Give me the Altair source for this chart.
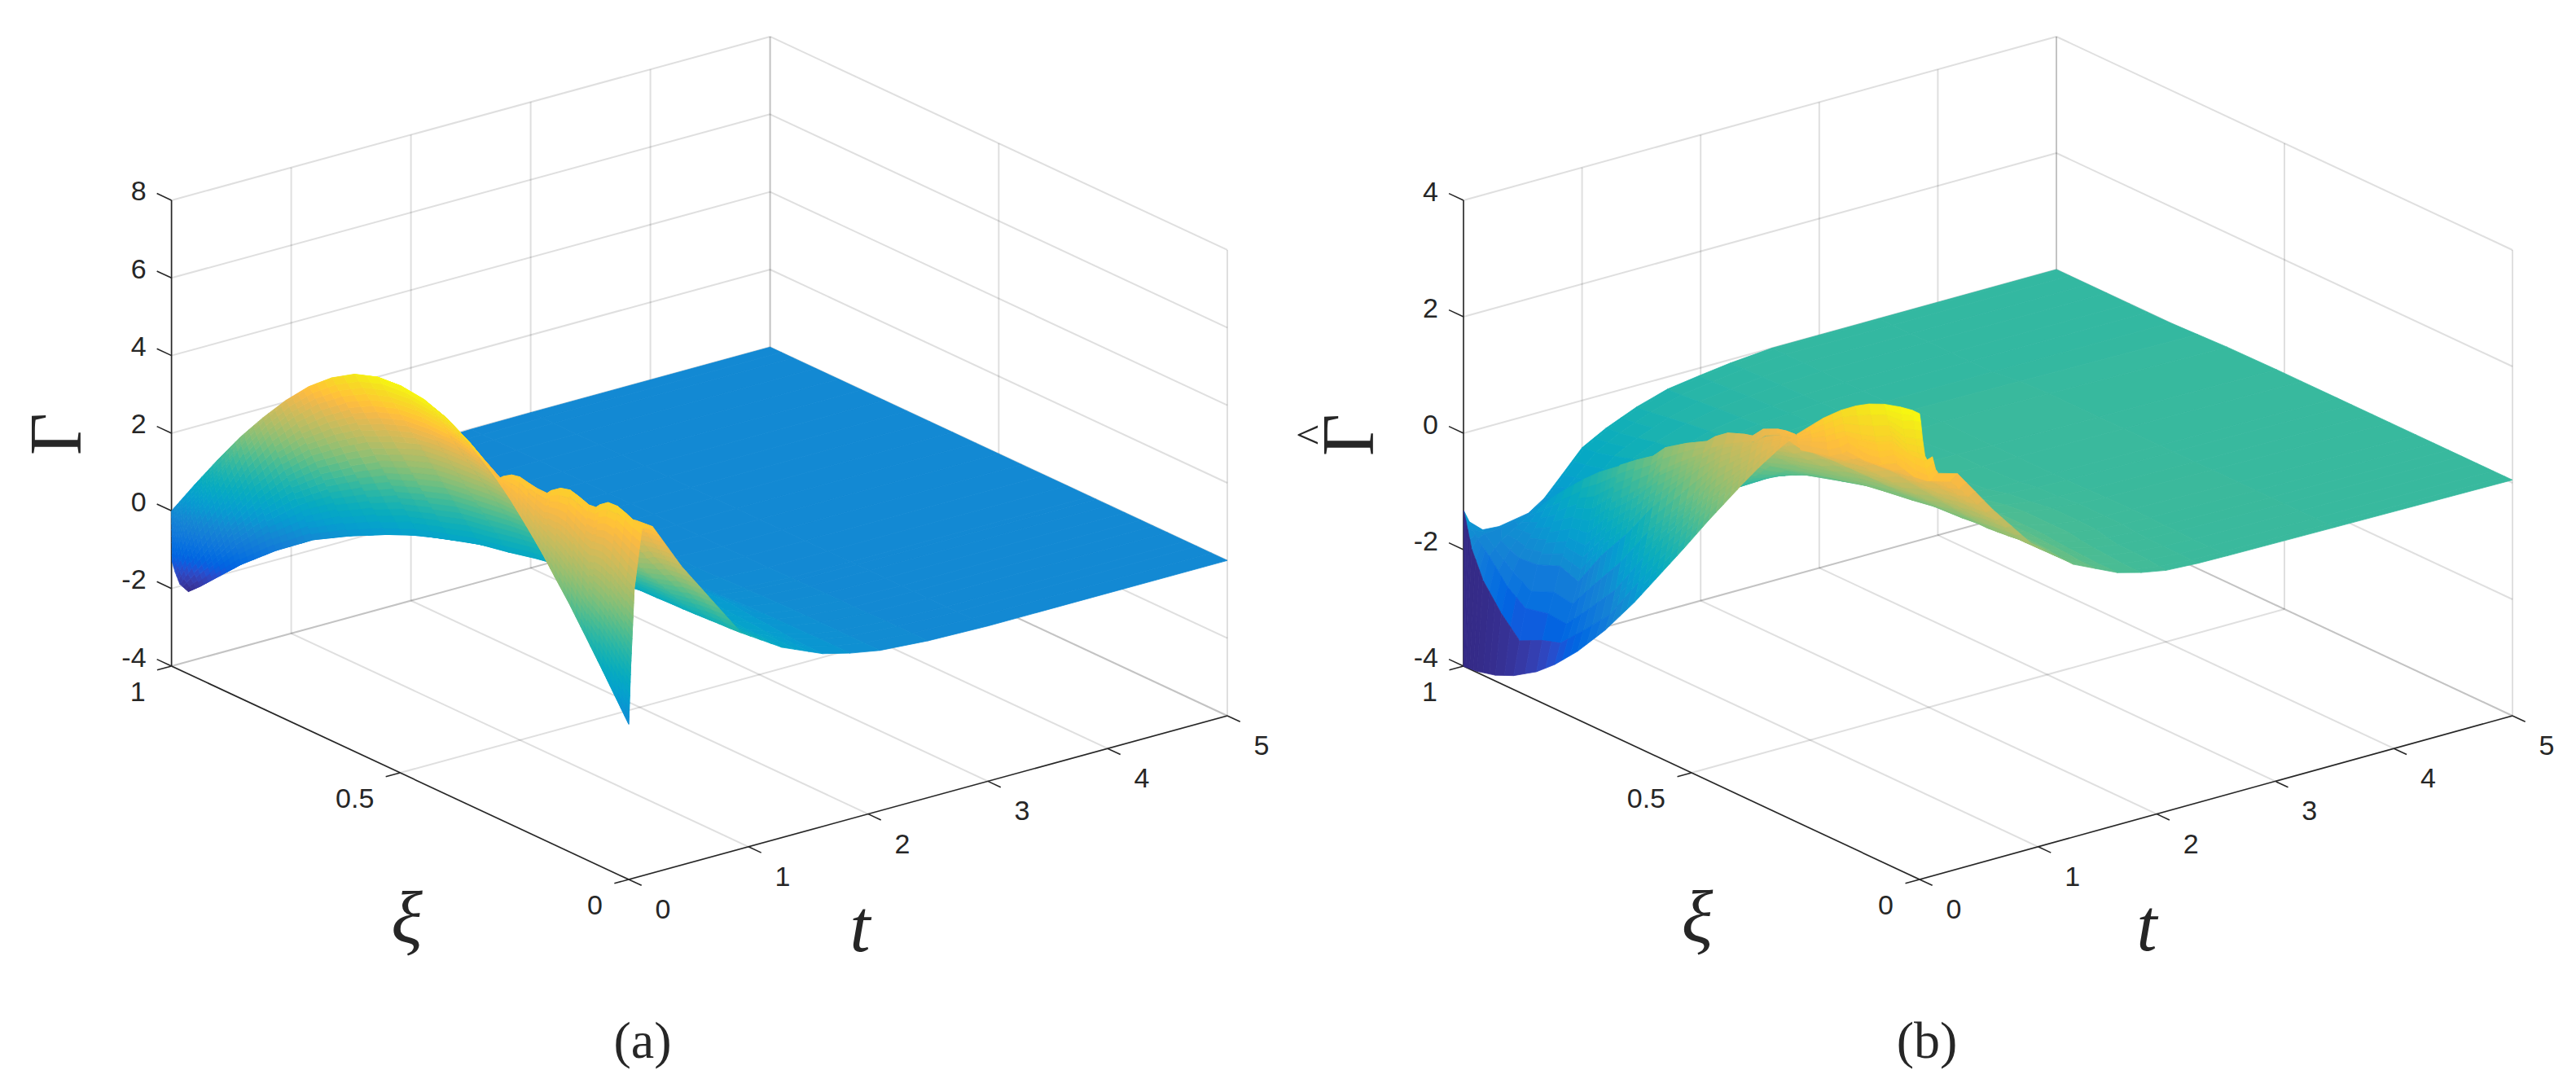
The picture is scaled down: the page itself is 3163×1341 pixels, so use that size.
import math
import altair as alt
import pandas as pd

alt.data_transformers.disable_max_rows()

# ---------------------------------------------------------------- colour map (MATLAB parula)
PARULA = [
 [0.2081,0.1663,0.5292],[0.2116,0.1898,0.5777],[0.2123,0.2138,0.6270],[0.2081,0.2386,0.6771],
 [0.1959,0.2645,0.7279],[0.1707,0.2919,0.7792],[0.1253,0.3242,0.8303],[0.0591,0.3598,0.8683],
 [0.0117,0.3875,0.8820],[0.0060,0.4086,0.8828],[0.0165,0.4266,0.8786],[0.0329,0.4430,0.8720],
 [0.0498,0.4586,0.8641],[0.0629,0.4737,0.8554],[0.0723,0.4887,0.8467],[0.0779,0.5040,0.8384],
 [0.0793,0.5200,0.8312],[0.0749,0.5375,0.8263],[0.0641,0.5570,0.8240],[0.0488,0.5772,0.8228],
 [0.0343,0.5966,0.8199],[0.0265,0.6137,0.8135],[0.0239,0.6287,0.8038],[0.0231,0.6418,0.7913],
 [0.0228,0.6535,0.7768],[0.0267,0.6642,0.7607],[0.0384,0.6743,0.7436],[0.0590,0.6838,0.7254],
 [0.0843,0.6928,0.7062],[0.1133,0.7015,0.6859],[0.1453,0.7098,0.6646],[0.1801,0.7177,0.6424],
 [0.2178,0.7250,0.6193],[0.2586,0.7317,0.5954],[0.3022,0.7376,0.5712],[0.3482,0.7424,0.5473],
 [0.3953,0.7459,0.5244],[0.4420,0.7481,0.5033],[0.4871,0.7491,0.4840],[0.5300,0.7491,0.4661],
 [0.5709,0.7485,0.4494],[0.6099,0.7473,0.4337],[0.6473,0.7456,0.4188],[0.6834,0.7435,0.4044],
 [0.7184,0.7411,0.3905],[0.7525,0.7384,0.3768],[0.7858,0.7356,0.3633],[0.8185,0.7327,0.3498],
 [0.8507,0.7299,0.3360],[0.8824,0.7274,0.3217],[0.9139,0.7258,0.3063],[0.9450,0.7261,0.2886],
 [0.9739,0.7314,0.2666],[0.9938,0.7455,0.2403],[0.9990,0.7653,0.2164],[0.9955,0.7861,0.1967],
 [0.9880,0.8066,0.1794],[0.9789,0.8271,0.1633],[0.9697,0.8481,0.1475],[0.9626,0.8705,0.1309],
 [0.9589,0.8949,0.1132],[0.9598,0.9218,0.0948],[0.9661,0.9514,0.0755],[0.9763,0.9831,0.0538],
]

# ---------------------------------------------------------------- panel (a): Gamma
XI_A = [1,.975,.95,.9,.85,.8,.75,.7,.65,.6,.55,.5,.45,.4,.35,.3,.287,.259,.224,.189,.162,.131,.091,.067,.035,0]
T_A = [
 [0,.002,.004,.005,.03,.07,.14,.44,.74,1.85,2.1,2.5,3,5],
 [0,.002,.004,.008,.03,.075,.145,.445,.745,1.85,2.1,2.5,3,5],
 [0,.003,.006,.01,.03,.08,.15,.45,.75,1.85,2.1,2.5,3,5],
 [0,.003,.006,.01,.04,.1,.2,.5,.8,1.85,2.1,2.5,3,5],
 [0,.003,.006,.01,.05,.14,.3,.6,.9,1.85,2.1,2.5,3,5],
 [0,.003,.006,.01,.06,.18,.42,.72,1.02,1.85,2.1,2.5,3,5],
 [0,.003,.006,.01,.07,.22,.53,.83,1.13,1.85,2.1,2.5,3,5],
 [0,.003,.006,.01,.08,.27,.65,.95,1.25,1.85,2.1,2.5,3,5],
 [0,.003,.006,.01,.09,.3,.73,1.03,1.33,1.85,2.1,2.5,3,5],
 [0,.003,.006,.01,.1,.33,.8,1.1,1.4,1.85,2.1,2.5,3,5],
 [0,.003,.006,.01,.105,.35,.855,1.15,1.45,1.85,2.1,2.5,3,5],
 [0,.003,.006,.01,.11,.37,.9,1.2,1.5,1.85,2.1,2.5,3,5],
 [0,.003,.006,.01,.115,.39,.95,1.25,1.55,1.85,2.1,2.5,3,5],
 [0,.003,.006,.01,.12,.41,1,1.3,1.6,1.85,2.1,2.5,3,5],
 [0,.003,.006,.01,.125,.43,1.04,1.34,1.64,1.85,2.1,2.5,3,5],
 [0,.003,.006,.01,.13,.44,1.07,1.37,1.67,1.85,2.1,2.5,3,5],
 [0,.001,.002,.003,.13,.44,1.075,1.39,1.7,1.85,2.1,2.5,3,5],
 [0,.0016,.0045,.0108,.141,.451,1.085,1.39,1.7,1.85,2.1,2.5,3,5],
 [0,.0036,.01,.024,.154,.464,1.09,1.39,1.7,1.85,2.1,2.5,3,5],
 [0,.0057,.0158,.0377,.168,.478,1.08,1.38,1.68,1.85,2.1,2.5,3,5],
 [0,.0072,.02,.048,.178,.488,1.07,1.37,1.67,1.85,2.1,2.5,3,5],
 [0,.009,.025,.06,.19,.5,1.05,1.36,1.66,1.85,2.1,2.5,3,5],
 [0,.011,.0315,.075,.205,.5,1.02,1.33,1.64,1.85,2.1,2.5,3,5],
 [0,.0128,.0357,.085,.2,.47,1,1.32,1.63,1.85,2.1,2.5,3,5],
 [0,.0146,.0407,.097,.2,.45,.97,1.3,1.62,1.85,2.1,2.5,3,5],
 [0,.016,.046,.11,.2,.44,.94,1.28,1.62,1.85,2.1,2.5,3,5],
]
Z_A = [
 [0,-.5,-1,-1.32,-1.6,-1.95,-2.2,-1.6,-1.1,-.08,-.05,-.01,0,0],
 [.47,.2,-.1,-.41,-.8,-1.4,-1.93,-1.35,-.9,-.06,-.04,-.01,0,0],
 [.94,.7,.45,.18,-.1,-.9,-1.63,-1.1,-.7,-.05,-.03,0,0,0],
 [1.85,1.73,1.53,1.32,.95,.21,-1,-.65,-.35,-.03,-.02,0,0,0],
 [2.72,2.66,2.58,2.5,2.1,1.17,-.45,-.28,-.15,-.02,-.01,0,0,0],
 [3.5,3.48,3.45,3.41,3,2,0,0,0,0,0,0,0,0],
 [4.22,4.21,4.2,4.18,3.74,2.62,.28,.18,.05,0,0,0,0,0],
 [4.85,4.84,4.83,4.82,4.34,3.07,.49,.25,.1,.01,0,0,0,0],
 [5.35,5.34,5.33,5.32,4.8,3.45,.68,.3,.15,.01,.01,0,0,0],
 [5.72,5.71,5.7,5.69,5.13,3.7,.78,.42,.2,.02,.01,0,0,0],
 [5.92,5.91,5.91,5.9,5.33,3.9,.89,.46,.25,.03,.02,0,0,0],
 [5.97,5.96,5.96,5.95,5.39,3.93,.93,.55,.3,.05,.03,0,0,0],
 [5.9,5.89,5.89,5.88,5.34,3.91,.99,.6,.33,.07,.05,0,0,0],
 [5.7,5.69,5.68,5.67,5.15,3.78,1.01,.62,.35,.1,.06,.01,0,0],
 [5.35,5.34,5.33,5.32,4.8,3.47,1.02,.65,.4,.14,.08,.01,0,0],
 [4.85,4.84,4.83,4.8,4.28,3.15,1.06,.68,.42,.2,.1,.02,0,0],
 [4.7,4.72,4.73,4.72,4.2,3.1,1.08,.7,.43,.2,.1,.02,0,0],
 [4.38,4.52,4.62,4.7,4.3,3.1,1.11,.74,.45,.22,.11,.02,0,0],
 [3.88,4.15,4.42,4.6,4.35,3.12,1.11,.76,.45,.24,.12,.03,0,0],
 [3.37,3.8,4.3,4.6,4.4,3.13,1.15,.78,.45,.25,.13,.03,0,0],
 [2.91,3.55,4.35,4.85,4.5,3.15,1.18,.79,.45,.25,.13,.03,0,0],
 [2.41,3.2,4.2,4.85,4.55,3.16,1.24,.8,.45,.26,.13,.03,0,0],
 [1.69,2.65,3.9,4.7,4.7,3.35,1.33,.83,.45,.26,.13,.04,0,0],
 [1.25,2.4,3.9,4.95,4.8,3.55,1.39,.85,.45,.27,.13,.04,0,0],
 [.66,1.95,3.7,4.85,4.88,3.65,1.47,.88,.45,.27,.13,.04,0,0],
 [0,1.44,3.45,4.95,4.92,3.7,1.56,.9,.45,.27,.13,.04,0,0],
]

# the rippled ridge of panel (a), read finely
XI_A_RIDGE = [.2856,.275,.2588,.2426,.2237,.2075,.1885,.1805,.1617,.1427,.1266,.105,.0914,.0833,.0672,.0484,.0322,.016,0]
T_A_RIDGE = [
 [0,.0001,.0002,.0005,.03],[0,.0007,.0019,.0046,.035],[0,.0016,.0045,.0108,.041],[0,.0026,.0071,.017,.047],
 [0,.0036,.0102,.0243,.054],[0,.0046,.0129,.0306,.061],[0,.0057,.0159,.0379,.068],[0,.0062,.0172,.041,.071],
 [0,.0072,.0202,.0482,.078],[0,.0083,.0233,.0555,.086],[0,.0093,.0259,.0617,.092],[0,.0105,.0294,.07,.1],
 [0,.0113,.0316,.0752,.105],[0,.0118,.0329,.0784,.108],[0,.0127,.0355,.0846,.115],[0,.0138,.0386,.0918,.122],
 [0,.0147,.0412,.098,.128],[0,.0156,.0438,.1042,.134],[0,.016,.046,.1104,.14],
]
Z_A_RIDGE = [
 [4.68,4.7,4.73,4.75,4.55],[4.56,4.65,4.77,4.87,4.67],[4.36,4.53,4.78,4.99,4.79],[4.14,4.39,4.74,5.02,4.82],
 [3.88,4.18,4.6,4.95,4.75],[3.64,4.0,4.5,4.9,4.7],[3.35,3.8,4.4,4.88,4.68],[3.22,3.73,4.44,4.99,4.79],
 [2.91,3.56,4.45,5.15,4.95],[2.6,3.35,4.4,5.2,5.0],[2.33,3.14,4.26,5.13,4.93],[1.94,2.83,4.06,5.01,4.81],
 [1.7,2.65,3.99,5.02,4.82],[1.55,2.58,4.02,5.13,4.93],[1.26,2.42,4.03,5.27,5.07],[.91,2.17,3.92,5.27,5.07],
 [.6,1.93,3.76,5.18,4.98],[.3,1.68,3.59,5.07,4.9],[0,1.44,3.45,5.0,4.98],
]

# ---------------------------------------------------------------- panel (b): Gamma-hat
XI_B = [1,.995,.97,.93,.89,.84,.8,.75,.69,.626,.517,.462,.384,.353,.307,.268,.211,.172,.14,.111,.077,.042,.016,0]
T_B = [
 [0,.002,.05,.162,.3,.547,.68,.83,1,1.2,1.46,1.72,1.985,2.25,2.6,3.5,5],
 [0,.05,.1,.16,.3,.53,.68,.83,1,1.2,1.46,1.72,1.985,2.25,2.6,3.5,5],
 [0,.05,.1,.15,.2,.491,.68,.83,1,1.2,1.46,1.72,1.985,2.25,2.6,3.5,5],
 [0,.05,.1,.15,.2,.463,.68,.83,1,1.2,1.46,1.72,1.985,2.25,2.6,3.5,5],
 [0,.05,.1,.15,.2,.435,.68,.83,1,1.2,1.46,1.72,1.985,2.25,2.6,3.5,5],
 [0,.05,.1,.15,.2,.4,.65,.83,1,1.2,1.46,1.72,1.985,2.25,2.6,3.5,5],
 [0,.05,.1,.15,.2,.372,.62,.8,1,1.2,1.46,1.72,1.985,2.25,2.6,3.5,5],
 [0,.05,.1,.15,.2,.337,.6,.8,1,1.2,1.46,1.72,1.985,2.25,2.6,3.5,5],
 [0,.045,.09,.135,.18,.295,.55,.75,1,1.2,1.46,1.72,1.985,2.25,2.6,3.5,5],
 [0,.04,.08,.12,.16,.25,.5,.7,.9,1.18,1.46,1.72,1.985,2.25,2.6,3.5,5],
 [0,.03,.06,.09,.13,.174,.33,.53,.73,1,1.3,1.65,2,2.3,2.6,3.5,5],
 [0,.025,.05,.08,.1,.136,.3,.6,.85,1.12,1.4,1.7,2,2.3,2.6,3.5,5],
 [0,.015,.03,.05,.065,.081,.3,.65,1,1.27,1.55,1.8,2.05,2.32,2.6,3.5,5],
 [0,.012,.024,.036,.048,.06,.3,.65,1.06,1.33,1.6,1.85,2.1,2.35,2.6,3.5,5],
 [0,.005,.01,.016,.022,.027,.3,.65,1.12,1.4,1.68,1.9,2.12,2.35,2.6,3.5,5],
 [0,.0006,.0012,.0018,.0024,.003,.3,.65,1.15,1.42,1.7,1.92,2.15,2.37,2.6,3.5,5],
 [0,.006,.012,.018,.024,.03,.32,.67,1.17,1.43,1.7,1.92,2.15,2.37,2.6,3.5,5],
 [0,.01,.02,.03,.04,.05,.33,.67,1.15,1.42,1.7,1.92,2.15,2.37,2.6,3.5,5],
 [0,.014,.028,.042,.056,.07,.33,.66,1.11,1.4,1.69,1.9,2.12,2.36,2.6,3.5,5],
 [0,.017,.034,.051,.068,.085,.33,.66,1.08,1.38,1.68,1.89,2.1,2.35,2.6,3.5,5],
 [0,.02,.04,.06,.08,.1,.33,.64,1.04,1.36,1.68,1.88,2.1,2.35,2.6,3.5,5],
 [0,.015,.035,.055,.085,.115,.33,.64,.99,1.33,1.67,1.87,2.09,2.35,2.6,3.5,5],
 [0,.012,.03,.05,.088,.125,.32,.62,.95,1.31,1.67,1.87,2.08,2.35,2.6,3.5,5],
 [0,.01,.025,.045,.09,.135,.32,.62,.934,1.3,1.67,1.87,2.08,2.35,2.6,3.5,5],
]
Z_B = [
 [-4,-1.33,-1.55,-1.75,-1.77,-1.68,-1.5,-1.18,-.81,-.59,-.37,-.21,-.13,-.06,0,0,0],
 [-4,-2,-1.85,-1.8,-1.78,-1.66,-1.48,-1.17,-.8,-.58,-.37,-.21,-.13,-.06,0,0,0],
 [-3.98,-2.45,-2.05,-1.95,-1.85,-1.48,-1.4,-1.12,-.78,-.56,-.35,-.2,-.12,-.05,0,0,0],
 [-3.9,-2.87,-2.43,-2.21,-2,-1.13,-1.25,-1.05,-.7,-.5,-.3,-.17,-.1,-.04,0,0,0],
 [-3.76,-3.19,-2.66,-2.4,-1.97,-.81,-1.1,-.92,-.6,-.43,-.25,-.14,-.08,-.03,0,0,0],
 [-3.51,-3,-2.57,-2.23,-1.81,-.43,-.85,-.75,-.5,-.36,-.2,-.11,-.06,-.02,0,0,0],
 [-3.24,-2.9,-2.6,-2.28,-1.93,-.15,-.65,-.6,-.4,-.29,-.16,-.08,-.04,-.01,0,0,0],
 [-2.83,-2.5,-2.15,-1.75,-1.3,.15,-.4,-.42,-.28,-.2,-.1,-.05,-.02,0,0,0,0],
 [-2.25,-2,-1.6,-1.15,-.7,.45,-.15,-.25,-.15,-.1,-.04,-.01,0,.04,.08,.06,.02],
 [-1.54,-1.2,-.8,-.38,.02,.85,.1,-.05,-.05,-.03,0,.02,.05,.08,.1,.08,.04],
 [-.21,.09,.39,.69,1.08,1.4,1.32,1.06,.8,.5,.25,.15,.12,.11,.1,.08,.05],
 [.48,.74,1,1.31,1.52,1.78,1.65,1.2,.82,.52,.28,.18,.13,.11,.1,.08,.05],
 [1.42,1.56,1.7,1.88,2.02,2.05,1.85,1.33,.81,.55,.32,.2,.14,.11,.1,.08,.05],
 [1.78,1.9,2.03,2.15,2.2,2.28,2,1.45,.78,.53,.33,.22,.15,.12,.1,.08,.05],
 [2.28,2.34,2.38,2.42,2.46,2.48,2.14,1.55,.76,.53,.35,.24,.17,.13,.11,.08,.05],
 [2.67,2.64,2.6,2.57,2.53,2.45,2.05,1.53,.78,.54,.35,.25,.18,.14,.12,.08,.05],
 [3.15,3.04,2.94,2.83,2.73,2.5,2.15,1.58,.78,.54,.35,.25,.18,.14,.12,.08,.05],
 [3.43,3.31,3.19,3.06,2.94,2.7,2.32,1.7,.84,.57,.35,.25,.17,.14,.12,.08,.05],
 [3.62,3.45,3.28,3.11,2.94,2.65,2.3,1.72,.9,.6,.34,.24,.17,.13,.11,.08,.05],
 [3.76,3.57,3.37,3.18,2.98,2.67,2.34,1.76,.96,.62,.34,.23,.16,.13,.11,.08,.05],
 [3.88,3.69,3.5,3.31,3.12,2.81,2.47,1.84,1.04,.64,.33,.23,.16,.12,.1,.08,.05],
 [3.96,3.72,3.43,3.2,3,2.7,2.5,1.85,1.14,.65,.33,.22,.16,.12,.1,.08,.05],
 [4,3.82,3.5,3.25,3.03,2.72,2.6,1.9,1.2,.67,.33,.22,.15,.11,.1,.08,.05],
 [4,3.85,3.55,3.25,3.05,2.9,2.79,2,1.26,.68,.33,.22,.14,.11,.1,.08,.05],
]

# the crest and the crease of panel (b), read finely
XI_B_RIDGE = [.7439,.6993,.6548,.6216,.5991,.5657,.5103,.4884,.4544,.4098,.388,.3596,.3205,.2985,.2738,
              .2656,.2415,.2094,.1851,.169,.1488,.1289,.1085,.0804,.0602,.0361,.016,0]
T_B_RIDGE = [
 [.266,.3331,.353],[.242,.3019,.322],[.217,.2708,.291],[.198,.2475,.268],[.185,.2318,.252],[.167,.2084,.228],
 [.136,.1696,.19],[.123,.1543,.174],[.104,.1305,.15],[.079,.0993,.119],[.067,.084,.104],[.051,.0641,.084],
 [.029,.0368,.057],[.017,.0214,.041],[.003,.004,.024],[.001,.0012,.021],[.011,.0133,.033],[.024,.0295,.05],
 [.033,.0418,.062],[.04,.0499,.07],[.048,.06,.08],[.056,.0701,.09],[.064,.0803,.1],[.076,.0945,.115],
 [.084,.1047,.125],[.093,.1168,.137],[.102,.1269,.147],[.108,.135,.155],
]
Z_B_RIDGE = [
 [-.4,.2,.08],[-.07,.47,.35],[.27,.72,.6],[.62,1.0,.88],[.79,1.12,1.0],[1.02,1.3,1.18],
 [1.38,1.56,1.44],[1.56,1.73,1.61],[1.76,1.93,1.81],[1.97,2.09,1.97],[2.05,2.15,2.03],[2.27,2.38,2.26],
 [2.48,2.54,2.42],[2.56,2.6,2.48],[2.63,2.64,2.52],[2.55,2.51,2.39],[2.62,2.55,2.43],[2.71,2.6,2.48],
 [2.87,2.73,2.61],[2.98,2.86,2.74],[2.98,2.81,2.69],[3.0,2.78,2.66],[3.03,2.81,2.69],[3.14,2.95,2.83],
 [3.12,2.9,2.78],[3.07,2.82,2.7],[3.06,2.82,2.7],[3.2,2.97,2.9],
]

# ---------------------------------------------------------------- axes
T_TICKS = [0, 1, 2, 3, 4, 5]
XI_TICKS = [0, 0.5, 1]
XI_LABELS = ["0", "0.5", "1"]
Z_TICKS_A = [-4, -2, 0, 2, 4, 6, 8]
Z_TICKS_B = [-4, -2, 0, 2, 4]

# the 3-D view of each panel: page position of the front corner and pixels per data unit
VIEW_A = dict(ox=772.0, oy=1080.0, tx=147.0, ty=-40.2, xx=-561.4, xy=-262.0, zs=47.67)
VIEW_B = dict(ox=2357.0, oy=1080.0, tx=145.6, ty=-40.2, xx=-560.0, xy=-262.0, zs=71.5)
INK = "#262626"


def proj(v, t, xi, z):
    return (v["ox"] + v["tx"] * t + v["xx"] * xi,
            v["oy"] + v["ty"] * t + v["xy"] * xi - v["zs"] * (z + 4))


def colour(z, zmin, zmax):
    f = min(max((z - zmin) / (zmax - zmin), 0), 1) * 63
    i = min(int(f), 62)
    w = f - i
    rgb = [PARULA[i][c] * (1 - w) + PARULA[i + 1][c] * w for c in range(3)]
    return "#%02x%02x%02x" % tuple(round(c * 255) for c in rgb)


class Counter:
    n = 0


def surface_rows(v, xis, ts, zs, zmin, zmax, flat_rows=0, step=0.2):
    """Quads far-to-near, as a MATLAB surf paints them, with per-cell shading."""
    rows = []
    for i in range(len(xis) - 1):
        ximid = (xis[i] + xis[i + 1]) / 2
        for k in reversed(range(len(ts[0]) - 1)):
            s = 1.0
            if k < flat_rows:
                s = min(max((0.72 - ximid) / 0.12, 0), 1)
            z00, z01, z10, z11 = zs[i][k], zs[i][k + 1], zs[i + 1][k], zs[i + 1][k + 1]
            t00, t01, t10, t11 = ts[i][k], ts[i][k + 1], ts[i + 1][k], ts[i + 1][k + 1]
            nv = max(1, min(30, math.ceil(max(abs(z01 - z00), abs(z11 - z10)) * s / step)))
            nu = max(1, min(12, math.ceil(max(abs(z10 - z00), abs(z11 - z01)) / step)))

            def bil(a, b, p00, p01, p10, p11):
                return (p00 * (1 - b) + p01 * b) * (1 - a) + (p10 * (1 - b) + p11 * b) * a

            for a in range(nu):
                for b in reversed(range(nv)):
                    ua, ub = a / nu, (a + 1) / nu
                    va, vb = b / nv, (b + 1) / nv
                    c = colour(bil((ua + ub) / 2, (va + vb) / 2 * s, z00, z01, z10, z11), zmin, zmax)
                    Counter.n += 1
                    for o, (u, w) in enumerate([(ua, va), (ub, va), (ub, vb), (ua, vb)]):
                        xi = xis[i] * (1 - u) + xis[i + 1] * u
                        x, y = proj(v, bil(u, w, t00, t01, t10, t11), xi, bil(u, w, z00, z01, z10, z11))
                        rows.append(dict(x=round(x, 2), y=round(y, 2), o=o, g=Counter.n, c=c))
    return rows


def frame_rows(v, zticks):
    zb, zt = zticks[0], zticks[-1]
    grid, axes = [], []

    def seg(store, a, b):
        Counter.n += 1
        for o, p in enumerate((a, b)):
            x, y = proj(v, *p)
            store.append(dict(x=round(x, 2), y=round(y, 2), o=o, g=Counter.n))

    for z in zticks:
        seg(grid, (0, 1, z), (5, 1, z))
        seg(grid, (5, 1, z), (5, 0, z))
    for t in T_TICKS:
        seg(grid, (t, 1, zb), (t, 1, zt))
        seg(grid, (t, 0, zb), (t, 1, zb))
    for xi in XI_TICKS:
        seg(grid, (5, xi, zb), (5, xi, zt))
        seg(grid, (0, xi, zb), (5, xi, zb))
    seg(axes, (0, 1, zb), (0, 1, zt))
    seg(axes, (0, 0, zb), (0, 1, zb))
    seg(axes, (0, 0, zb), (5, 0, zb))
    for z in zticks:
        seg(axes, (0, 1, z), (0, 1.032, z))
    for xi in XI_TICKS:
        seg(axes, (0, xi, zb), (-0.12, xi, zb))
    for t in T_TICKS:
        seg(axes, (t, 0, zb), (t, -0.028, zb))
    return grid, axes


def label_rows(v, zticks):
    zb = zticks[0]
    right, centre = [], []
    for z in zticks:
        x, y = proj(v, 0, 1, z)
        right.append(dict(x=x - 31, y=y - 9.5, s=str(z)))
    for xi, s in zip(XI_TICKS, XI_LABELS):
        x, y = proj(v, 0, xi, zb)
        right.append(dict(x=x - 32, y=y + 33, s=s))
    for t in T_TICKS:
        x, y = proj(v, t, 0, zb)
        centre.append(dict(x=x + 42, y=y + 38, s=str(t)))
    return right, centre


XS = alt.X("x:Q", axis=None, scale=alt.Scale(domain=[8, 3148], nice=False, zero=False))
YS = alt.Y("y:Q", axis=None, scale=alt.Scale(domain=[1328, 8], nice=False, zero=False))


def lines(rows, color, width, opacity=1.0):
    return alt.Chart(pd.DataFrame(rows)).mark_line(
        color=color, strokeWidth=width, opacity=opacity, interpolate="linear"
    ).encode(x=XS, y=YS, detail="g:N", order="o:Q")


def patches(rows):
    return alt.Chart(pd.DataFrame(rows)).mark_line(
        filled=True, strokeWidth=0.8, interpolate="linear-closed"
    ).encode(
        x=XS, y=YS, detail="g:N", order="o:Q",
        fill=alt.Fill("c:N", scale=None),
        stroke=alt.Stroke("c:N", scale=None),
    )


def texts(rows, font, size, align="center", style="normal", angle=0):
    return alt.Chart(pd.DataFrame(rows)).mark_text(
        font=font, fontSize=size, align=align, baseline="middle",
        fontStyle=style, angle=angle, color=INK
    ).encode(x=XS, y=YS, text="s:N")


layers = []
for view, zt in ((VIEW_A, Z_TICKS_A), (VIEW_B, Z_TICKS_B)):
    g, a = frame_rows(view, zt)
    layers += [lines(g, INK, 2.0, 0.15), lines(a, INK, 1.6)]
layers.append(patches(surface_rows(VIEW_A, XI_A, T_A, Z_A, -2.2, 6.0)))
layers.append(patches(surface_rows(VIEW_A, XI_A_RIDGE, T_A_RIDGE, Z_A_RIDGE, -2.2, 6.0)))
layers.append(patches(surface_rows(VIEW_B, XI_B, T_B, Z_B, -4.0, 4.0, flat_rows=4)))
layers.append(patches(surface_rows(VIEW_B, XI_B_RIDGE, T_B_RIDGE, Z_B_RIDGE, -4.0, 4.0)))
for view, zt in ((VIEW_A, Z_TICKS_A), (VIEW_B, Z_TICKS_B)):
    r, c = label_rows(view, zt)
    layers += [texts(r, "Liberation Sans", 34, "right"), texts(c, "Liberation Sans", 34)]

layers.append(texts([dict(x=72, y=533, s="Γ"), dict(x=1659, y=534, s="Γ")], "Liberation Serif", 90, angle=270))
layers.append(texts([dict(x=1612, y=534, s="^")], "Liberation Serif", 52, angle=270))
layers.append(texts([dict(x=499.5, y=1131, s="ξ"), dict(x=2084, y=1130, s="ξ"),
                     dict(x=1056, y=1141, s="t"), dict(x=2636, y=1140, s="t")],
                    "Liberation Serif", 90, style="italic"))
layers.append(texts([dict(x=789, y=1280, s="(a)"), dict(x=2366, y=1280, s="(b)")], "Liberation Serif", 64))

chart = alt.layer(*layers).properties(
    width=3140, height=1320, padding=0,
    autosize=alt.AutoSizeParams(type="none"), background="white",
).configure_view(stroke=None)

chart.save("out.html", embed_options={"renderer": "svg", "actions": False})
